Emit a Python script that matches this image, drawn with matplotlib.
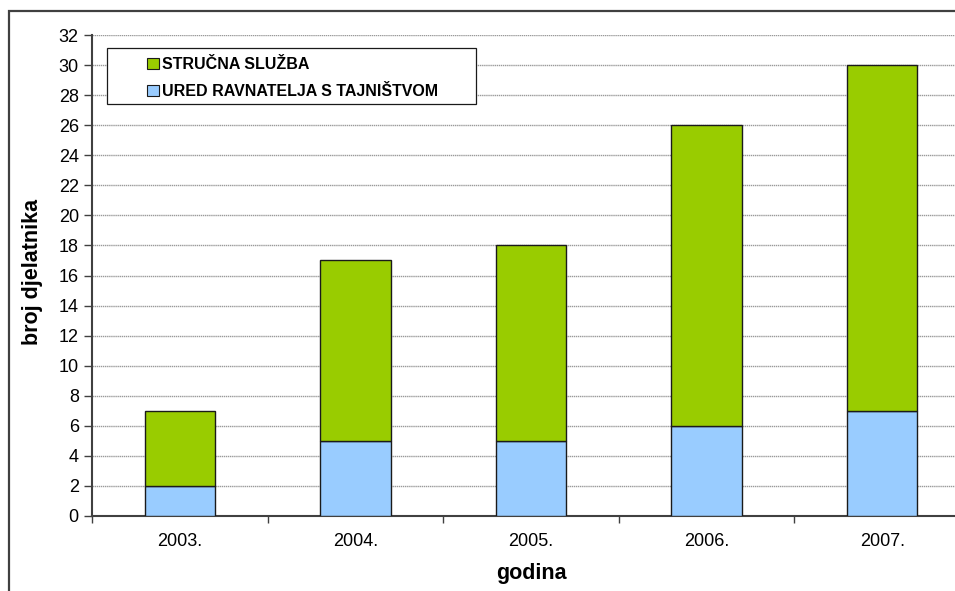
import matplotlib
matplotlib.use('Agg')
import matplotlib.pyplot as plt
from matplotlib.patches import Rectangle, Patch
import numpy as np

years = ['2003.', '2004.', '2005.', '2006.', '2007.']
ured = [2, 5, 5, 6, 7]
strucna = [5, 12, 13, 20, 23]

GREEN = '#99cc00'
BLUE = '#99ccff'
EDGE = '#1a1a1a'
AXIS = '#404040'

def main():
	plt.rcParams['font.family'] = ['Liberation Sans', 'DejaVu Sans']
	W, H = 955, 591
	fig = plt.figure(figsize=(W / 100, H / 100), dpi=100)

	# frame around the chart area (cut off on the right and bottom)
	fig.patches.append(Rectangle((9 / W, -0.1), 1.2, 1.1 - 11 / H, transform=fig.transFigure,
		fill=False, edgecolor=AXIS, linewidth=1.6))

	aw, ah = W - 92, 481
	ax = fig.add_axes([92 / W, 75 / H, aw / W, ah / H])
	x = np.arange(len(years))
	ax.bar(x, ured, width=0.4, color=BLUE, edgecolor=EDGE, linewidth=1, zorder=3)
	ax.bar(x, strucna, width=0.4, bottom=ured, color=GREEN, edgecolor=EDGE, linewidth=1, zorder=3)

	ax.set_yticks(np.arange(0, 33, 2))
	ax.yaxis.grid(True, color='#9a9a9a', linestyle=(0, (1, 0.5)), linewidth=1, zorder=0)
	ax.set_xticks(x)
	ax.set_xticklabels(years, fontsize=13)
	ax.set_xticks(np.arange(-0.5, 5, 1), minor=True)
	# limits after ticks, otherwise the minor ticks widen the view
	ax.set_ylim(0, 32)
	ax.set_xlim(-0.5, 4.5 - 15 / 175.6)
	ax.tick_params(axis='x', which='major', length=0, pad=12)
	ax.tick_params(axis='x', which='minor', length=5, color=AXIS, width=1)
	ax.tick_params(axis='y', length=6, color=AXIS, width=1, labelsize=13, pad=3.5)

	for s in ['top', 'right']:
		ax.spines[s].set_visible(False)
	for s in ['left', 'bottom']:
		ax.spines[s].set_color(AXIS)
		ax.spines[s].set_linewidth(1.5)

	ax.set_ylabel('broj djelatnika', fontsize=15.5, fontweight='bold', va='center')
	ax.yaxis.set_label_coords((33 - 92) / aw, (516 - 272) / ah)
	ax.set_xlabel('godina', fontsize=15.5, fontweight='bold', va='center')
	ax.xaxis.set_label_coords((531 - 92) / aw, (516 - 573) / ah)

	# legend box drawn separately, entries indented inside it
	ax.add_patch(Rectangle(((107 - 92) / aw, (516 - 104) / ah), (476 - 107) / aw, 56 / ah,
		transform=ax.transAxes, facecolor='white', edgecolor=EDGE, linewidth=0.9, zorder=4))
	handles = [Patch(facecolor=GREEN, edgecolor=EDGE, linewidth=0.8),
		Patch(facecolor=BLUE, edgecolor=EDGE, linewidth=0.8)]
	leg = ax.legend(handles, ['STRUČNA SLUŽBA', 'URED RAVNATELJA S TAJNIŠTVOM'],
		loc='upper left', bbox_to_anchor=((147 - 92) / aw, (516 - 57) / ah),
		prop={'weight': 'bold', 'size': 11.5}, frameon=False,
		handlelength=0.75, handleheight=0.75, handletextpad=0.2,
		borderpad=0, labelspacing=0.75, borderaxespad=0)
	leg.set_zorder(5)

	fig.savefig('out.png', dpi=100)

if __name__ == '__main__':
	main()
